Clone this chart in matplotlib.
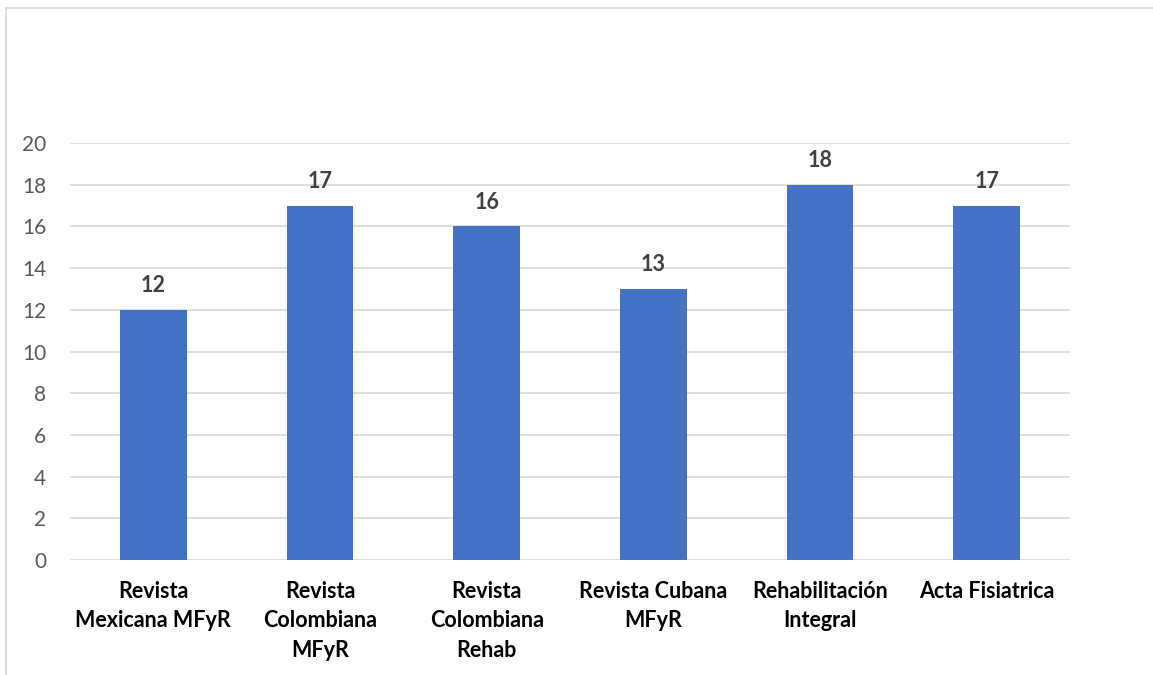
import matplotlib
matplotlib.use("Agg")
import matplotlib.pyplot as plt
from matplotlib.lines import Line2D

categories = ["Revista\nMexicana MFyR", "Revista\nColombiana\nMFyR", "Revista\nColombiana\nRehab",
              "Revista Cubana\nMFyR", "Rehabilitación\nIntegral", "Acta Fisiatrica"]
values = [12, 17, 16, 13, 18, 17]
yticks = [0, 2, 4, 6, 8, 10, 12, 14, 16, 18, 20]

plt.rcParams['font.family'] = ['Lato', 'DejaVu Sans']

fig = plt.figure(figsize=(11.53, 6.75), dpi=100)
ax = fig.add_axes([70/1153, 115/675, 1000/1153, 417/675])

x = range(len(categories))
bars = ax.bar(x, values, width=0.4, color="#4472C4", zorder=3)
ax.set_xlim(-0.5, len(categories) - 0.5)
ax.set_ylim(0, 20)
ax.set_yticks(yticks)
ax.set_yticklabels([str(t) for t in yticks], fontsize=15, color="#595959")
ax.set_xticks(list(x))
ax.set_xticklabels(categories, fontsize=15.5, fontweight="bold", color="black", linespacing=1.5, va="top")
ax.tick_params(axis="both", length=0)
ax.tick_params(axis="x", pad=15)
ax.tick_params(axis="y", pad=17)
ax.grid(axis="y", color="#d9d9d9", linewidth=1.2, zorder=0)
for s in ax.spines.values():
    s.set_visible(False)

for b, v in zip(bars, values):
    ax.annotate(str(v), (b.get_x() + b.get_width()/2, v), xytext=(0, 10), textcoords="offset points",
                ha="center", va="bottom", fontsize=15.5, fontweight="bold", color="#404040")

# outer chart border (partially cropped)
fig.add_artist(Line2D([6/1153, 6/1153], [0, 1 - 8/675], transform=fig.transFigure, color="#d9d9d9", lw=1.2))
fig.add_artist(Line2D([6/1153, 1], [1 - 8/675, 1 - 8/675], transform=fig.transFigure, color="#d9d9d9", lw=1.2))

fig.savefig("out.png", dpi=100)
